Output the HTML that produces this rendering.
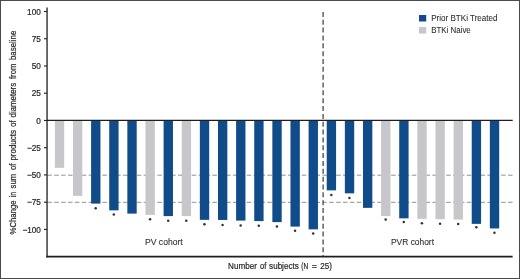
<!DOCTYPE html>
<html><head><meta charset="utf-8"><style>
html,body{margin:0;padding:0;background:#fff;}
body{width:520px;height:279px;overflow:hidden;position:relative;font-family:"Liberation Sans",sans-serif;}
svg{position:absolute;left:0;top:0;display:block;will-change:transform;transform:translateZ(0);}
text{font-family:"Liberation Sans",sans-serif;fill:#262626;stroke:#262626;stroke-width:0.22px;}
.lt{stroke-width:0.08px;fill:#2e2e2e;stroke:#2e2e2e;}
</style></head><body>
<svg width="520" height="279" viewBox="0 0 520 279">
<rect x="0" y="0" width="520" height="279" fill="#ffffff"/>
<rect x="0.5" y="0.5" width="519" height="278" fill="none" stroke="#4a4a4a" stroke-width="1"/>

<line x1="47.5" y1="175.2" x2="513" y2="175.2" stroke="#626262" stroke-width="0.7" stroke-dasharray="4.5 2.375" stroke-dashoffset="0.1"/>
<line x1="47.5" y1="202.3" x2="513" y2="202.3" stroke="#626262" stroke-width="0.7" stroke-dasharray="4.5 2.375" stroke-dashoffset="0.1"/>
<rect x="54.850" y="120.35" width="9.35" height="47.50" fill="#c7c7cb"/>
<rect x="72.975" y="120.35" width="9.35" height="75.50" fill="#c7c7cb"/>
<rect x="91.100" y="120.35" width="9.35" height="83.25" fill="#0f4c89"/>
<rect x="109.225" y="120.35" width="9.35" height="90.00" fill="#0f4c89"/>
<rect x="127.350" y="120.35" width="9.35" height="93.25" fill="#0f4c89"/>
<rect x="145.475" y="120.35" width="9.35" height="94.50" fill="#c7c7cb"/>
<rect x="163.600" y="120.35" width="9.35" height="95.75" fill="#0f4c89"/>
<rect x="181.725" y="120.35" width="9.35" height="95.75" fill="#c7c7cb"/>
<rect x="199.850" y="120.35" width="9.35" height="99.50" fill="#0f4c89"/>
<rect x="217.975" y="120.35" width="9.35" height="99.60" fill="#0f4c89"/>
<rect x="236.100" y="120.35" width="9.35" height="100.25" fill="#0f4c89"/>
<rect x="254.225" y="120.35" width="9.35" height="100.75" fill="#0f4c89"/>
<rect x="272.350" y="120.35" width="9.35" height="101.75" fill="#0f4c89"/>
<rect x="290.475" y="120.35" width="9.35" height="106.25" fill="#0f4c89"/>
<rect x="308.600" y="120.35" width="9.35" height="109.00" fill="#0f4c89"/>
<rect x="326.725" y="120.35" width="9.35" height="70.00" fill="#0f4c89"/>
<rect x="344.850" y="120.35" width="9.35" height="73.00" fill="#0f4c89"/>
<rect x="362.975" y="120.35" width="9.35" height="87.50" fill="#0f4c89"/>
<rect x="381.100" y="120.35" width="9.35" height="95.75" fill="#c7c7cb"/>
<rect x="399.225" y="120.35" width="9.35" height="98.00" fill="#0f4c89"/>
<rect x="417.350" y="120.35" width="9.35" height="98.50" fill="#c7c7cb"/>
<rect x="435.475" y="120.35" width="9.35" height="98.90" fill="#c7c7cb"/>
<rect x="453.600" y="120.35" width="9.35" height="99.20" fill="#c7c7cb"/>
<rect x="471.725" y="120.35" width="9.35" height="103.50" fill="#0f4c89"/>
<rect x="489.850" y="120.35" width="9.35" height="108.10" fill="#0f4c89"/>
<circle cx="95.67" cy="208.25" r="1.25" fill="#333333"/>
<circle cx="113.80" cy="214.5" r="1.25" fill="#333333"/>
<circle cx="150.05" cy="219.2" r="1.25" fill="#333333"/>
<circle cx="168.18" cy="220.75" r="1.25" fill="#333333"/>
<circle cx="186.30" cy="220.75" r="1.25" fill="#333333"/>
<circle cx="204.43" cy="224.25" r="1.25" fill="#333333"/>
<circle cx="222.55" cy="225" r="1.25" fill="#333333"/>
<circle cx="240.68" cy="225.5" r="1.25" fill="#333333"/>
<circle cx="258.80" cy="225.75" r="1.25" fill="#333333"/>
<circle cx="276.93" cy="226.5" r="1.25" fill="#333333"/>
<circle cx="295.05" cy="230.75" r="1.25" fill="#333333"/>
<circle cx="313.18" cy="233.4" r="1.25" fill="#333333"/>
<circle cx="331.30" cy="195" r="1.25" fill="#333333"/>
<circle cx="349.43" cy="198" r="1.25" fill="#333333"/>
<circle cx="385.68" cy="219.6" r="1.25" fill="#333333"/>
<circle cx="403.80" cy="221.9" r="1.25" fill="#333333"/>
<circle cx="421.93" cy="223.25" r="1.25" fill="#333333"/>
<circle cx="440.05" cy="223.75" r="1.25" fill="#333333"/>
<circle cx="458.18" cy="224" r="1.25" fill="#333333"/>
<circle cx="476.30" cy="227.25" r="1.25" fill="#333333"/>
<circle cx="494.43" cy="232.75" r="1.25" fill="#333333"/>
<line x1="323.1" y1="11.9" x2="323.1" y2="256" stroke="#303030" stroke-width="1.15" stroke-dasharray="5 2.845"/>
<line x1="47.05" y1="7.5" x2="47.05" y2="257.4" stroke="#1e1e1e" stroke-width="1.3"/>
<line x1="46.4" y1="256.6" x2="512.6" y2="256.6" stroke="#1e1e1e" stroke-width="1.75"/>
<line x1="46.9" y1="120.35" x2="512.7" y2="120.35" stroke="#1e1e1e" stroke-width="1.3"/>
<line x1="44" y1="11.50" x2="47" y2="11.50" stroke="#1e1e1e" stroke-width="1.1"/>
<text x="40.8" y="14.65" font-size="8.8" text-anchor="end" textLength="13.71" lengthAdjust="spacingAndGlyphs">100</text>
<line x1="44" y1="38.74" x2="47" y2="38.74" stroke="#1e1e1e" stroke-width="1.1"/>
<text x="40.8" y="41.89" font-size="8.8" text-anchor="end" textLength="9.14" lengthAdjust="spacingAndGlyphs">75</text>
<line x1="44" y1="65.98" x2="47" y2="65.98" stroke="#1e1e1e" stroke-width="1.1"/>
<text x="40.8" y="69.13" font-size="8.8" text-anchor="end" textLength="9.14" lengthAdjust="spacingAndGlyphs">50</text>
<line x1="44" y1="93.22" x2="47" y2="93.22" stroke="#1e1e1e" stroke-width="1.1"/>
<text x="40.8" y="96.37" font-size="8.8" text-anchor="end" textLength="9.14" lengthAdjust="spacingAndGlyphs">25</text>
<line x1="44" y1="120.46" x2="47" y2="120.46" stroke="#1e1e1e" stroke-width="1.1"/>
<text x="40.8" y="123.61" font-size="8.8" text-anchor="end" textLength="4.57" lengthAdjust="spacingAndGlyphs">0</text>
<line x1="44" y1="147.70" x2="47" y2="147.70" stroke="#1e1e1e" stroke-width="1.1"/>
<text x="40.8" y="150.85" font-size="8.8" text-anchor="end" textLength="13.84" lengthAdjust="spacingAndGlyphs">−25</text>
<line x1="44" y1="174.94" x2="47" y2="174.94" stroke="#1e1e1e" stroke-width="1.1"/>
<text x="40.8" y="178.09" font-size="8.8" text-anchor="end" textLength="13.84" lengthAdjust="spacingAndGlyphs">−50</text>
<line x1="44" y1="202.18" x2="47" y2="202.18" stroke="#1e1e1e" stroke-width="1.1"/>
<text x="40.8" y="205.33" font-size="8.8" text-anchor="end" textLength="13.84" lengthAdjust="spacingAndGlyphs">−75</text>
<line x1="44" y1="229.42" x2="47" y2="229.42" stroke="#1e1e1e" stroke-width="1.1"/>
<text x="40.8" y="232.57" font-size="8.8" text-anchor="end" textLength="18.41" lengthAdjust="spacingAndGlyphs">−100</text>
<text transform="translate(16,234.40) rotate(-90)" font-size="9.7" textLength="34.00" lengthAdjust="spacingAndGlyphs">%Change</text>
<text transform="translate(16,197.20) rotate(-90)" font-size="9.7" textLength="5.30" lengthAdjust="spacingAndGlyphs">in</text>
<text transform="translate(16,188.40) rotate(-90)" font-size="9.7" textLength="14.40" lengthAdjust="spacingAndGlyphs">sum</text>
<text transform="translate(16,170.10) rotate(-90)" font-size="9.7" textLength="6.50" lengthAdjust="spacingAndGlyphs">of</text>
<text transform="translate(16,160.60) rotate(-90)" font-size="9.7" textLength="30.60" lengthAdjust="spacingAndGlyphs">products</text>
<text transform="translate(16,126.80) rotate(-90)" font-size="9.7" textLength="6.30" lengthAdjust="spacingAndGlyphs">of</text>
<text transform="translate(16,117.50) rotate(-90)" font-size="9.7" textLength="34.70" lengthAdjust="spacingAndGlyphs">diameters</text>
<text transform="translate(16,79.10) rotate(-90)" font-size="9.7" textLength="15.60" lengthAdjust="spacingAndGlyphs">from</text>
<text transform="translate(16,60.00) rotate(-90)" font-size="9.7" textLength="29.30" lengthAdjust="spacingAndGlyphs">baseline</text>
<text x="228.1" y="268.9" font-size="9.8" textLength="28.80" lengthAdjust="spacingAndGlyphs">Number</text>
<text x="260" y="268.9" font-size="9.8" textLength="6.25" lengthAdjust="spacingAndGlyphs">of</text>
<text x="269.1" y="268.9" font-size="9.8" textLength="29.65" lengthAdjust="spacingAndGlyphs">subjects</text>
<text x="301.25" y="268.9" font-size="9.8" textLength="6.85" lengthAdjust="spacingAndGlyphs">(N</text>
<text x="311.7" y="268.9" font-size="9.8" textLength="5.20" lengthAdjust="spacingAndGlyphs">=</text>
<text x="320.25" y="268.9" font-size="9.8" textLength="11.65" lengthAdjust="spacingAndGlyphs">25)</text>
<text class="lt" x="145" y="244.75" font-size="8.8" textLength="37.75" lengthAdjust="spacingAndGlyphs">PV cohort</text>
<text class="lt" x="391" y="244.75" font-size="8.8" textLength="43" lengthAdjust="spacingAndGlyphs">PVR cohort</text>
<rect x="419" y="15" width="7.2" height="6.5" fill="#0f4c89"/>
<rect x="419" y="27.1" width="7.2" height="6.4" fill="#c7c7cb"/>
<text class="lt" x="431.25" y="20.7" font-size="8.6" textLength="66.2" lengthAdjust="spacingAndGlyphs">Prior BTKi Treated</text>
<text class="lt" x="431.25" y="32.6" font-size="8.6" textLength="39.5" lengthAdjust="spacingAndGlyphs">BTKi Naive</text>
</svg></body></html>
